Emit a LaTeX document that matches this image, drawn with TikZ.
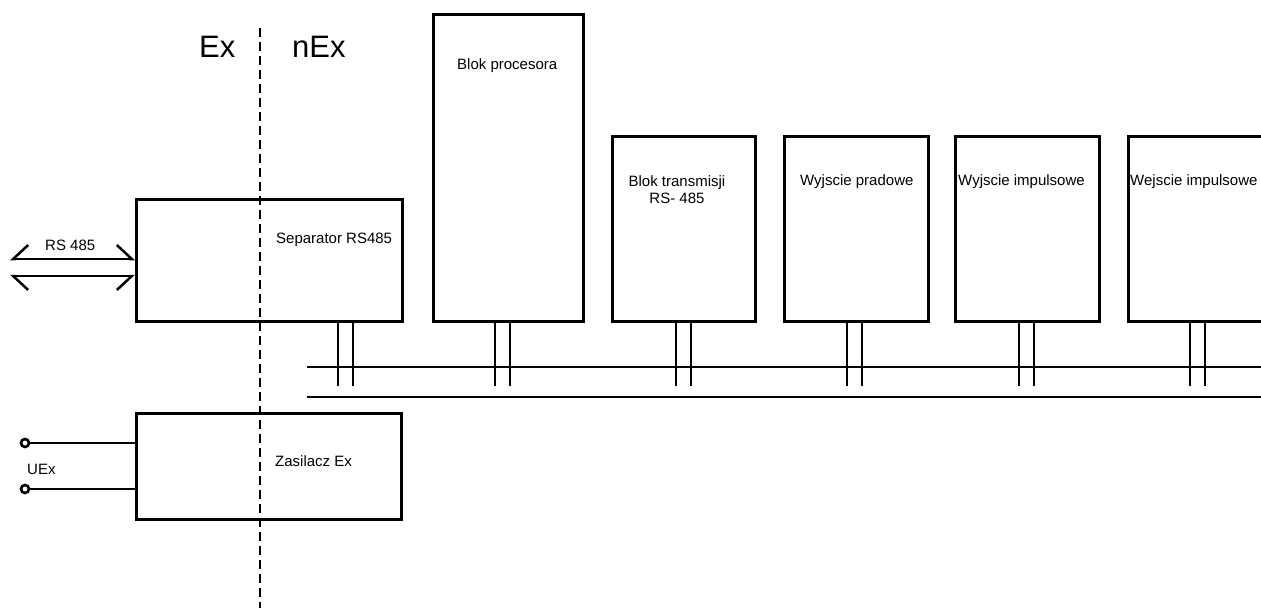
\documentclass[tikz,border=0pt]{standalone}
\usepackage{fontspec}
\setmainfont{Liberation Sans}
\usetikzlibrary{calc, arrows.meta}

\begin{document}
\begin{tikzpicture}[
          x=1pt, y=-1pt,
          blk/.style={draw, line width=2.5pt, anchor=north west, inner sep=0pt},
          txt/.style={font=\fontsize{15}{18}\selectfont, inner sep=0pt, anchor=west},
          zone/.style={font=\fontsize{31}{36}\selectfont, inner sep=0pt},
          wire/.style={line width=2.5pt},
          stub/.style={line width=2.3pt},
          term/.style={circle, draw, line width=2.6pt, minimum size=8pt, inner sep=0pt},
          divider/.style={line width=2.3pt, dash pattern=on 9pt off 5pt},
          barbup/.style={wire, {Straight Barb[harpoon,swap,length=15pt,width=28pt]}-{Straight Barb[harpoon,length=15pt,width=28pt]}},
          barbdn/.style={wire, {Straight Barb[harpoon,length=15pt,width=28pt]}-{Straight Barb[harpoon,swap,length=15pt,width=28pt]}}
        ]
          \clip (0,0) rectangle (1261,608);
          \node[blk, minimum width=266pt, minimum height=122pt] (sep)  at (135,198) {};
          \node[blk, minimum width=150pt, minimum height=307pt] (proc) at (432,13)  {};
          \node[blk, minimum width=143pt, minimum height=185pt] (trans) at (611,135) {};
          \node[blk, minimum width=144pt, minimum height=185pt] (pra)  at (783,135) {};
          \node[blk, minimum width=144pt, minimum height=185pt] (imp)  at (954,135) {};
          \node[blk, minimum width=144pt, minimum height=185pt] (wej)  at (1127,135) {};
          \node[blk, minimum width=265pt, minimum height=106pt] (zas)  at (135,412) {};

          \node[txt] (sepT)  at (276,240) {Separator RS485};
          \node[txt] (procT) at (457,66)  {Blok procesora};
          \node[txt, anchor=center, align=center, font=\fontsize{15}{17}\selectfont] (transT) at (677,190) {Blok transmisji\\RS- 485};
          \node[txt] (praT)  at (800,182) {Wyjscie pradowe};
          \node[txt] (impT)  at (958,182) {Wyjscie impulsowe};
          \node[txt] (wejT)  at (1130,182) {Wejscie impulsowe};
          \node[txt] (zasT)  at (275,461) {Zasilacz Ex};
          \node[txt] (rsT)   at (45,245)  {RS 485};
          \node[txt] (uT)    at (27,469)  {UEx};
          \node[zone, anchor=west] (ex)  at (199,47) {Ex};
          \node[zone, anchor=west] (nex) at (292,47) {nEx};

          \coordinate (divT) at (260,28);
          \coordinate (divB) at (260,608);
          \draw[divider] (divT) -- (divB);

          \coordinate (busA1) at (307,367);
          \coordinate (busB1) at (1261,367);
          \coordinate (busA2) at (307,397);
          \coordinate (busB2) at (1261,397);
          \draw[wire] (busA1) -- (busB1);
          \draw[wire] (busA2) -- (busB2);

          \foreach \b/\dx in {sep/203, proc/63, trans/65, pra/64, imp/65, wej/63}
            {
              \draw[stub] ([xshift=\dx pt]\b.south west) -- ++(0,63);
              \draw[stub] ([xshift=\dx pt+15pt]\b.south west) -- ++(0,63);
            }

          \coordinate (rs1) at (10,259);
          \coordinate (rs2) at (10,276);
          \draw[barbup] (rs1) -- (sep.west |- rs1);
          \draw[barbdn] (rs2) -- (sep.west |- rs2);

          \node[term] (t1) at (25,443) {};
          \node[term] (t2) at (25,489) {};
          \draw[wire] (t1) -- (zas.west |- t1);
          \draw[wire] (t2) -- (zas.west |- t2);
        \end{tikzpicture}
\end{document}
